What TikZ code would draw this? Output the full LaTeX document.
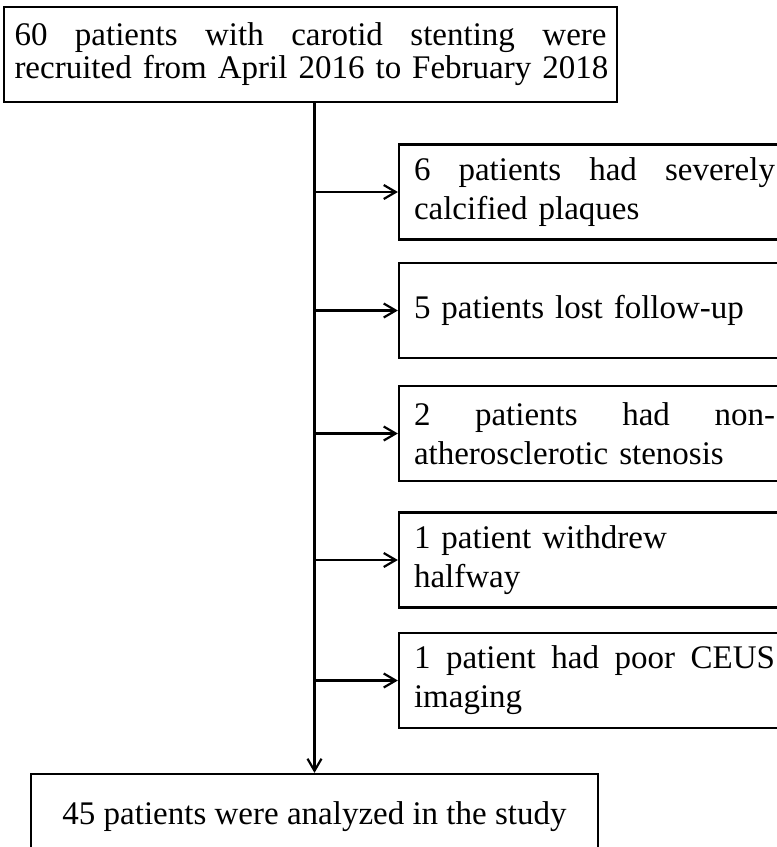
\documentclass[tikz,border=0pt]{standalone}
\usepackage{fontspec}
\setmainfont{Liberation Serif}
\usetikzlibrary{arrows.meta}

% stretch glue for the justified first lines
\newcommand{\gap}{\hskip 0pt plus 1filll\relax}

\begin{document}
\begin{tikzpicture}[x=0.5pt,y=-0.5pt,
  box/.style={draw,line width=1.1pt,inner sep=0pt,align=left,
    font=\fontsize{16.5}{19.5}\selectfont},
  sidebox/.style={box,minimum width=195.5pt,minimum height=47.5pt,text width=180.5pt},
  arr/.style={-{Straight Barb[length=6pt,width=7pt,line width=1.1pt]},line width=1.1pt}]

\useasboundingbox (0,0) rectangle (777,847);

% ---------- recruited ----------
\node[box,minimum width=306.5pt,minimum height=47.5pt,text width=296pt,
  font=\fontsize{16.5}{16.5}\selectfont] (recruit) at (310.5,54.5)
  {60\gap patients\gap with\gap carotid\gap stenting\gap were\\\mbox{recruited from April 2016 to February 2018}};

% ---------- excluded ----------
\node[sidebox] (calc) at (594.5,192) {6\gap patients\gap had\gap severely\\calcified plaques};
\node[sidebox] (lost) at (594.5,310.5) {5 patients lost follow-up};
\node[sidebox] (nonath) at (594.5,433.5) {2\gap patients\gap had\gap non-\\atherosclerotic stenosis};
\node[sidebox] (withdrew) at (594.5,560) {1 patient withdrew\\halfway};
\node[sidebox] (ceus) at (594.5,680.5) {1\gap patient\gap had\gap poor\gap CEUS\\imaging};

% ---------- analyzed ----------
\node[box,minimum width=283.5pt,minimum height=43pt,align=center] (analyzed) at (314.5,817)
  {45 patients were analyzed in the study};

% ---------- arrows ----------
\draw[arr] (recruit.south -| analyzed.north) -- (analyzed.north);
\foreach \b in {calc,lost,nonath,withdrew,ceus}
  \draw[arr] (analyzed.north |- \b.west) -- (\b.west);

\end{tikzpicture}
\end{document}
